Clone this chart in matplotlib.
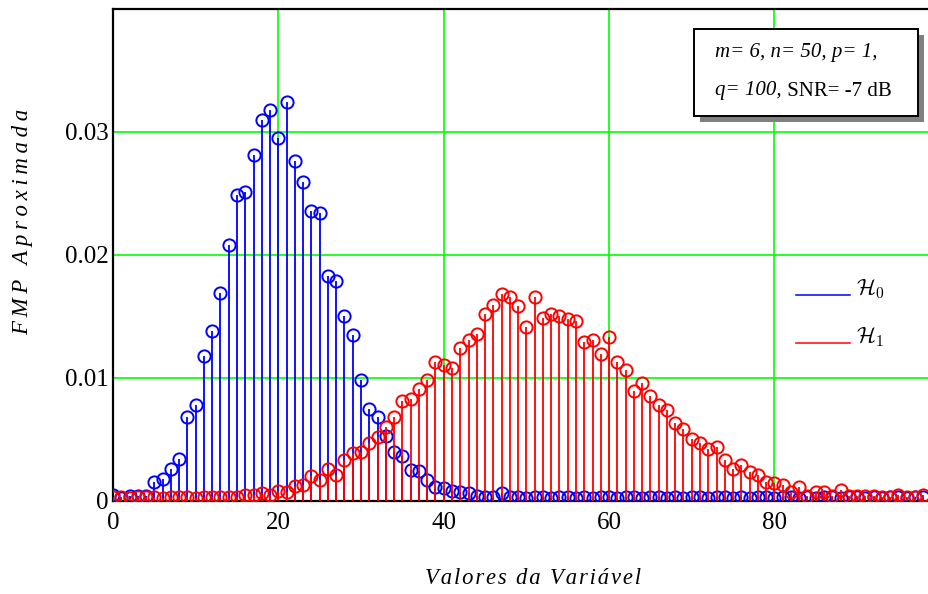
import numpy as np
import matplotlib
matplotlib.use("Agg")
import matplotlib.pyplot as plt
import matplotlib.patches as patches
from matplotlib.lines import Line2D
from matplotlib.text import Annotation

plt.rcParams['font.family'] = ['Liberation Serif', 'DejaVu Serif']
plt.rcParams['mathtext.fontset'] = 'cm'

# approximate PMF under H0 (blue) and H1 (red), x = 0..98
h0 = [0.0005, 0.0002, 0.0004, 0.0004, 0.0004, 0.0015, 0.0018, 0.0026, 0.0034, 0.0068,
      0.0078, 0.0118, 0.0138, 0.0169, 0.0208, 0.0249, 0.0251, 0.0281, 0.0310, 0.0318,
      0.0295, 0.0324, 0.0276, 0.0259, 0.0236, 0.0234, 0.0183, 0.0179, 0.0150, 0.0135,
      0.0098, 0.0075, 0.0068, 0.0053, 0.0040, 0.0036, 0.0025, 0.0024, 0.0017, 0.0011,
      0.0010, 0.0008, 0.0007, 0.0006, 0.0004, 0.0003, 0.0003, 0.0006, 0.0003, 0.0003,
      0.0002, 0.0003, 0.0003, 0.0002, 0.0003, 0.0003, 0.0002, 0.0003, 0.0002, 0.0003,
      0.0003, 0.0002, 0.0003, 0.0003, 0.0002, 0.0003, 0.0003, 0.0002, 0.0003, 0.0002,
      0.0003, 0.0003, 0.0002, 0.0003, 0.0003, 0.0002, 0.0003, 0.0002, 0.0003, 0.0003,
      0.0002, 0.0003, 0.0003, 0.0002, 0.0003, 0.0002, 0.0003, 0.0003, 0.0002, 0.0003,
      0.0003, 0.0002, 0.0003, 0.0002, 0.0003, 0.0003, 0.0002, 0.0003, 0.0003]

h1 = [0.0003, 0.0003, 0.0002, 0.0003, 0.0003, 0.0003, 0.0002, 0.0003, 0.0003, 0.0003,
      0.0002, 0.0003, 0.0003, 0.0003, 0.0003, 0.0003, 0.0005, 0.0005, 0.0006, 0.0005,
      0.0008, 0.0007, 0.0012, 0.0013, 0.0020, 0.0017, 0.0026, 0.0021, 0.0033, 0.0039,
      0.0040, 0.0047, 0.0052, 0.0060, 0.0068, 0.0081, 0.0083, 0.0091, 0.0098, 0.0113,
      0.0110, 0.0108, 0.0124, 0.0131, 0.0136, 0.0152, 0.0159, 0.0168, 0.0166, 0.0158,
      0.0141, 0.0166, 0.0149, 0.0152, 0.0150, 0.0148, 0.0146, 0.0129, 0.0131, 0.0119,
      0.0133, 0.0113, 0.0106, 0.0089, 0.0096, 0.0085, 0.0078, 0.0074, 0.0063, 0.0058,
      0.0050, 0.0047, 0.0042, 0.0044, 0.0033, 0.0026, 0.0029, 0.0023, 0.0021, 0.0015,
      0.0014, 0.0013, 0.0007, 0.0011, 0.0004, 0.0007, 0.0007, 0.0004, 0.0009, 0.0004,
      0.0004, 0.0004, 0.0004, 0.0003, 0.0003, 0.0005, 0.0003, 0.0003, 0.0005]

x = np.arange(len(h0))

xticks = [0, 20, 40, 60, 80]
yticks = [0, 0.01, 0.02, 0.03]
ytick_labels = ['0', '0.01', '0.02', '0.03']


def spaced(s, sp):
    # the original labels are letter-spaced
    return sp.join(s)


W, H = 929, 594
fig = plt.figure(figsize=(W / 100, H / 100), dpi=100)
ax = fig.add_axes([113 / W, (H - 500.7) / H, (W - 113) / W, (500.7 - 9) / H])

# grid
for gx in xticks[1:]:
    ax.axvline(gx, color='#00ff00', lw=1.2, zorder=1)
for gy in yticks[1:]:
    ax.axhline(gy, color='#00ff00', lw=1.2, zorder=1)

# stems + open circles
ax.vlines(x, 0, h0, color='#0000ff', lw=1.3, zorder=2)
ax.plot(x, h0, 'o', mfc='none', mec='#0000ff', ms=8.8, mew=1.4, zorder=3)
ax.vlines(x, 0, h1, color='#ff0000', lw=1.3, zorder=4)
ax.plot(x, h1, 'o', mfc='none', mec='#ff0000', ms=8.8, mew=1.4, zorder=5)

ax.set_xlim(0, 98.7)
ax.set_ylim(0, 0.04)
ax.set_xticks(xticks)
ax.set_yticks(yticks)
ax.set_yticklabels(ytick_labels)
ax.tick_params(length=0, labelsize=18)
ax.tick_params(axis='x', pad=8)
ax.tick_params(axis='y', pad=3)
for s in ['left', 'bottom', 'top']:
    ax.spines[s].set_linewidth(1.6)
ax.spines['right'].set_visible(False)

fig.text(23 / W, 1 - 222 / H, spaced('FMP Aproximada', '\u2009'), rotation=90,
         style='italic', fontsize=16.5, ha='center', va='center')
fig.text(533 / W, 1 - 578 / H, spaced('Valores da Variável', '\u200a'), style='italic',
         fontsize=16.3, ha='center', va='center')

# legend drawn by hand
fig.add_artist(Line2D([796 / W, 850 / W], [1 - 295 / H] * 2, color='#0000ff', lw=1.1))
fig.add_artist(Line2D([796 / W, 850 / W], [1 - 343 / H] * 2, color='#ff0000', lw=1.1))
fig.text(856 / W, 1 - 289 / H, r'$\mathcal{H}_0$', fontsize=16, va='center')
fig.text(856 / W, 1 - 337 / H, r'$\mathcal{H}_1$', fontsize=16, va='center')

# parameter box with shadow
bx0, by0, bx1, by1 = 694, 29, 918, 116
fig.add_artist(patches.Rectangle((bx0 / W + 6 / W, 1 - (by1 + 6) / H), (bx1 - bx0) / W,
                                 (by1 - by0) / H, transform=fig.transFigure,
                                 facecolor='#808080', edgecolor='none', zorder=10))
fig.add_artist(patches.Rectangle((bx0 / W, 1 - by1 / H), (bx1 - bx0) / W, (by1 - by0) / H,
                                 transform=fig.transFigure, facecolor='white',
                                 edgecolor='black', lw=1.4, zorder=11))
fig.text(715 / W, 1 - 52 / H, 'm= 6, n= 50, p= 1,', style='italic', fontsize=15,
         va='center', zorder=12)
t = fig.text(715 / W, 1 - 91 / H, 'q= 100,', style='italic', fontsize=15,
             va='center', zorder=12)
snr = Annotation(' SNR= -7 dB', xy=(1, 0), xycoords=t, va='bottom', fontsize=15,
                 annotation_clip=False, zorder=12)
fig.add_artist(snr)

fig.savefig('out.png', dpi=100)
